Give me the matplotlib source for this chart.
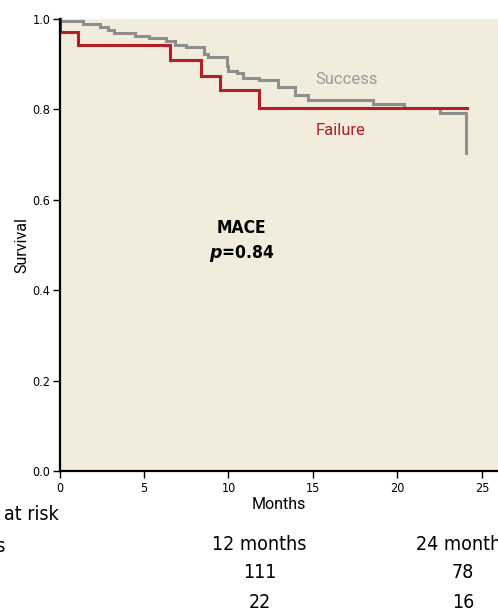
import matplotlib
matplotlib.use("Agg")
import matplotlib.pyplot as plt
from matplotlib import font_manager

# Kaplan-Meier steps (months, survival after the step)
success_times = [0.0, 1.39, 2.41, 2.87, 3.22, 4.45, 5.30, 6.32, 6.83, 7.49, 8.57, 8.80,
                 9.89, 9.99, 10.52, 10.88, 11.82, 12.95, 13.93, 14.72, 18.57, 20.40,
                 22.51, 24.05]
success_surv = [0.995, 0.989, 0.982, 0.976, 0.970, 0.963, 0.957, 0.951, 0.943, 0.939,
                0.922, 0.917, 0.896, 0.886, 0.880, 0.870, 0.865, 0.849, 0.832, 0.821,
                0.813, 0.803, 0.793, 0.704]
success_end = 24.05

failure_times = [0.05, 1.10, 6.55, 8.35, 9.50, 11.82]
failure_surv = [0.971, 0.943, 0.909, 0.875, 0.843, 0.804]
failure_end = 24.10

risk_header = ["12 months", "24 months"]
risk_success = ["111", "78"]
risk_failure = ["22", "16"]

BG = "#f1ecdc"
GREY = "#8e8e8e"
RED = "#b21f24"
PLAIN = ["Roboto", "DejaVu Sans"]


def narrow(size, weight="normal"):
    return font_manager.FontProperties(family="DejaVu Sans", stretch="condensed",
                                       size=size, weight=weight)


def km_xy(times, surv, end):
    xs, ys = [0.0], [1.0]
    for t, s in zip(times, surv):
        xs += [t, t]
        ys += [ys[-1], s]
    xs.append(end)
    ys.append(ys[-1])
    return xs, ys


fig = plt.figure(figsize=(4.98, 6.13), dpi=100)
ax = fig.add_axes([0.1195, 0.2316, 1 - 0.1195, 0.969 - 0.2316])
ax.set_facecolor(BG)

sx, sy = km_xy(success_times, success_surv, success_end)
fx, fy = km_xy(failure_times, failure_surv, failure_end)
ax.plot(sx, sy, color=GREY, lw=2.2, solid_joinstyle="miter", clip_on=False)
ax.plot(fx, fy, color=RED, lw=2.2, solid_joinstyle="miter", clip_on=False)

ax.set_xlim(0, 25.95)
ax.set_ylim(0, 1.0)
ax.set_xticks([0, 5, 10, 15, 20, 25])
ax.set_yticks([0.0, 0.2, 0.4, 0.6, 0.8, 1.0])
ax.set_yticklabels(["0.0", "0.2", "0.4", "0.6", "0.8", "1.0"])
for s in ["top", "right"]:
    ax.spines[s].set_visible(False)
for s in ["left", "bottom"]:
    ax.spines[s].set_linewidth(1.6)
ax.tick_params(axis="both", direction="out", length=5, width=1)
ax.tick_params(axis="x", pad=3)
ax.tick_params(axis="y", pad=1.5)
for lab in ax.get_xticklabels() + ax.get_yticklabels():
    lab.set_fontproperties(narrow(9))

ax.set_xlabel("Months", family=PLAIN, fontsize=11.5, labelpad=1)
ax.set_ylabel("Survival", family=PLAIN, fontsize=11.5, labelpad=2)

ax.text(15.16, 0.867, "Success", color="#9a9a9a", family=PLAIN, fontsize=12, va="center")
ax.text(15.16, 0.754, "Failure", color=RED, family=PLAIN, fontsize=12, va="center")
ax.text(10.77, 0.538, "MACE", fontproperties=narrow(12.5, "bold"),
        ha="center", va="center")
ax.text(10.77, 0.482, r"$\boldsymbol{p}$=0.84", fontproperties=narrow(12.5, "bold"),
        ha="center", va="center")

# patients-at-risk table below (left part is cut off in the reference)
fig.text(58.5 / 498, 1 - 515 / 613, "Patients at risk", fontproperties=narrow(14),
         ha="right", va="center")
fig.text(5.5 / 498, 1 - 546 / 613, "Months", fontproperties=narrow(14),
         ha="right", va="center")
cols = [259.5 / 498, 463 / 498]
for c, h, a, b in zip(cols, risk_header, risk_success, risk_failure):
    fig.text(c, 1 - 545 / 613, h, fontproperties=narrow(14), ha="center", va="center")
    fig.text(c, 1 - 573 / 613, a, fontproperties=narrow(14), ha="center", va="center")
    fig.text(c, 1 - 602 / 613, b, fontproperties=narrow(14), ha="center", va="center")

fig.savefig("out.png", dpi=100, facecolor="white")
